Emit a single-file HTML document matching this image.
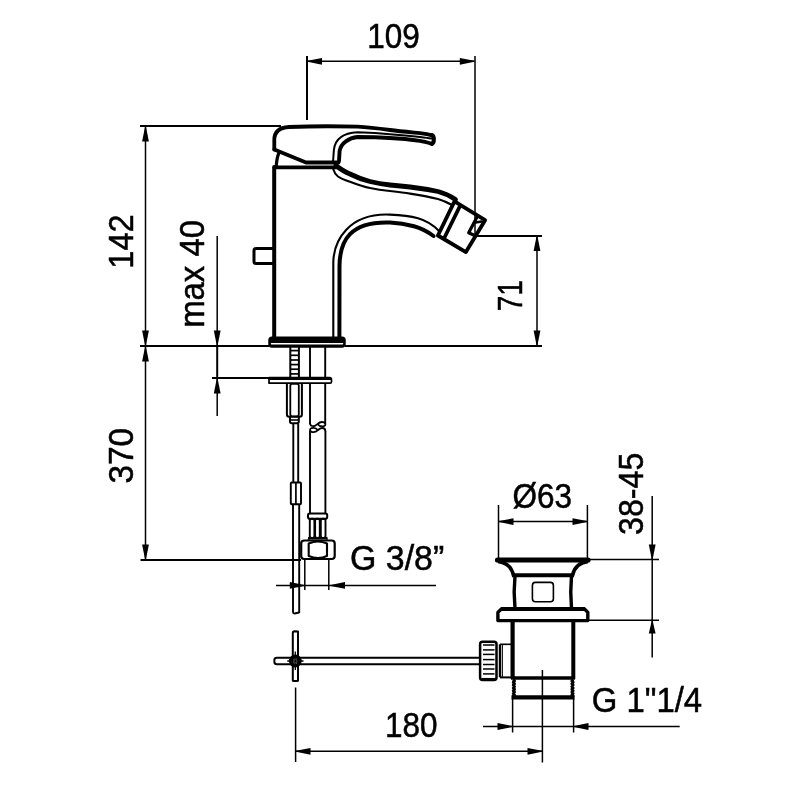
<!DOCTYPE html>
<html><head><meta charset="utf-8">
<style>
html,body{margin:0;padding:0;background:#fff;width:800px;height:800px;overflow:hidden}
svg{display:block;will-change:transform}
text{font-family:"Liberation Sans",sans-serif;fill:#000}
</style></head><body>
<svg width="800" height="800" viewBox="0 0 800 800">
<rect width="800" height="800" fill="#fff"/>

<!-- ============ DIMENSIONS ============ -->
<g stroke="#000" stroke-width="1.5" fill="none">
  <!-- 109 -->
  <line x1="307" y1="56" x2="307" y2="120" stroke-width="2"/>
  <line x1="475" y1="56" x2="475" y2="234"/>
  <line x1="307" y1="61.3" x2="474.5" y2="61.3" stroke-width="1.6"/>
  <!-- 142 -->
  <line x1="140" y1="126" x2="281" y2="126" stroke-width="2"/>
  <line x1="145.5" y1="126" x2="145.5" y2="345"/>
  <!-- base line -->
  <line x1="140" y1="346" x2="269" y2="346" stroke-width="2"/>
  <line x1="345" y1="346" x2="542" y2="346" stroke-width="2"/>
  <!-- max 40 -->
  <line x1="217.2" y1="236" x2="217.2" y2="346"/>
  <line x1="217.2" y1="346" x2="217.2" y2="378" stroke-width="2"/>
  <line x1="217.2" y1="378" x2="217.2" y2="416"/>
  <line x1="212" y1="377.9" x2="269" y2="377.9" stroke-width="2"/>
  <!-- 71 -->
  <line x1="477" y1="235.9" x2="542" y2="235.9" stroke-width="2"/>
  <line x1="537" y1="236" x2="537" y2="346"/>
  <!-- 370 -->
  <line x1="145.5" y1="346" x2="145.5" y2="560"/>
  <line x1="140.5" y1="560" x2="301" y2="560" stroke-width="2"/>
  <!-- G 3/8 -->
  <line x1="304.8" y1="560" x2="304.8" y2="590"/>
  <line x1="328.8" y1="560" x2="328.8" y2="590"/>
  <line x1="276" y1="585.5" x2="436" y2="585.5"/>
  <!-- O63 -->
  <line x1="498.5" y1="505" x2="498.5" y2="558"/>
  <line x1="587.4" y1="505" x2="587.4" y2="558"/>
  <line x1="499" y1="521.6" x2="587" y2="521.6"/>
  <!-- 38-45 -->
  <line x1="588" y1="559.6" x2="659" y2="559.6"/>
  <line x1="588" y1="620.2" x2="659" y2="620.2"/>
  <line x1="652.2" y1="496" x2="652.2" y2="657.5"/>
  <!-- G 1 1/4 -->
  <line x1="512.6" y1="698" x2="512.6" y2="732.5"/>
  <line x1="573.6" y1="698" x2="573.6" y2="732.5"/>
  <line x1="483" y1="726.5" x2="679.7" y2="726.5"/>
  <!-- 180 -->
  <line x1="295.6" y1="687.5" x2="295.6" y2="762"/>
  <line x1="542.4" y1="670" x2="542.4" y2="762.5"/>
  <line x1="296" y1="751.3" x2="542" y2="751.3"/>
</g>
<!-- arrowheads -->
<g fill="#000" stroke="none">
  <polygon points="307.50,60.80 322.00,57.90 322.00,64.70 307.50,61.80"/>
  <polygon points="474.30,60.80 459.80,57.90 459.80,64.70 474.30,61.80"/>
  <polygon points="145.00,127.00 142.10,141.50 148.90,141.50 146.00,127.00"/>
  <polygon points="145.00,345.00 142.10,330.50 148.90,330.50 146.00,345.00"/>
  <polygon points="216.70,345.00 213.80,330.50 220.60,330.50 217.70,345.00"/>
  <polygon points="216.70,379.00 213.80,393.50 220.60,393.50 217.70,379.00"/>
  <polygon points="536.50,236.50 533.60,251.00 540.40,251.00 537.50,236.50"/>
  <polygon points="536.50,345.00 533.60,330.50 540.40,330.50 537.50,345.00"/>
  <polygon points="145.00,347.00 142.10,361.50 148.90,361.50 146.00,347.00"/>
  <polygon points="145.00,559.00 142.10,544.50 148.90,544.50 146.00,559.00"/>
  <polygon points="304.30,584.90 289.80,582.00 289.80,588.80 304.30,585.90"/>
  <polygon points="330.50,584.90 345.00,582.00 345.00,588.80 330.50,585.90"/>
  <polygon points="499.00,521.10 513.50,518.20 513.50,525.00 499.00,522.10"/>
  <polygon points="587.00,521.10 572.50,518.20 572.50,525.00 587.00,522.10"/>
  <polygon points="651.70,559.00 648.80,544.50 655.60,544.50 652.70,559.00"/>
  <polygon points="651.70,621.00 648.80,633.50 655.60,633.50 652.70,621.00"/>
  <polygon points="512.00,726.00 497.50,723.10 497.50,729.90 512.00,727.00"/>
  <polygon points="574.00,726.00 588.50,723.10 588.50,729.90 574.00,727.00"/>
  <polygon points="296.00,750.80 310.50,747.90 310.50,754.70 296.00,751.80"/>
  <polygon points="542.00,750.80 527.50,747.90 527.50,754.70 542.00,751.80"/>
</g>

<!-- ============ TEXT ============ -->
<g font-size="35" text-anchor="middle" stroke="#000" stroke-width="0.5">
  <text transform="translate(393.5,47.6) scale(0.9,1)">109</text>
  <text transform="translate(397.1,569.8) scale(0.97,1)">G 3/8”</text>
  <text transform="translate(542.2,507.5) scale(0.9,1)">Ø63</text>
  <text transform="translate(411.3,736.8) scale(0.9,1)">180</text>
  <text transform="translate(646.9,712.3) scale(0.94,1)">G 1"1/4</text>
  <text transform="translate(132.6,241.5) rotate(-90) scale(0.93,1)">142</text>
  <text transform="translate(204,273.9) rotate(-90) scale(0.94,1)">max 40</text>
  <text transform="translate(132.7,455.7) rotate(-90) scale(0.955,1)">370</text>
  <text transform="translate(521.7,295.8) rotate(-90) scale(0.8,1)">71</text>
  <text transform="translate(642.7,493.8) rotate(-90) scale(0.92,1)">38-45</text>
</g>

<!-- ============ FAUCET ============ -->
<g stroke="#000" fill="none" stroke-linecap="round" stroke-linejoin="round">
  <!-- handle top + lever -->
  <path d="M274.3,149.5 L274.3,140 C274.3,131.5 279,127.5 289,127 C310,126.2 340,126.2 357.5,126.7 C370,127.4 380,128.7 390,130 C400,131.3 410,132.2 420,133.2 C425,133.8 429,134.5 432,135.3" stroke-width="3.8"/>
  <!-- lever tip -->
  <path d="M432,135.3 C434.4,136.3 434.4,142.9 432,143.8" stroke-width="4.2"/>
  <!-- lever lower thick -->
  <path d="M432,143.8 C428,142.7 424,141.6 420,140.9 C415,140.1 410,139.5 405,139 C395,138.2 385,137.6 375,137.3 L357.5,137 C349,138 341,143 339.6,151 L339,161" stroke-width="3.9"/>
  <!-- lever upper thin -->
  <path d="M431,138.5 C428,138 424,137.5 420,137 C415,136.3 410,135.8 405,135.4 C395,134.7 385,133.8 375,133.1 L357.5,132.2 C342,133 335,140 333.9,149.75 L333.1,161" stroke-width="2"/>
  <!-- handle bottom -->
  <path d="M274.3,149.5 L306,162.5 L338.5,162.5" stroke-width="3.8"/>
  <!-- small arc under handle -->
  <path d="M279.1,152.5 C277.5,156 276.5,161 276.3,166.5" stroke-width="3.2"/>
  <!-- body top -->
  <path d="M274.5,167.4 L336,167.4" stroke-width="3.8"/>
  <!-- body left -->
  <path d="M274.2,167 L274.2,337" stroke-width="4"/>
  <!-- button -->
  <path d="M274,248.5 L256,248.5 Q254,248.5 254,250.5 L254,261.5 Q254,263.5 256,263.5 L274,263.5" stroke-width="3"/>
  <!-- spout top thick -->
  <path d="M335.75,165.5 C341,169.5 345,172 350,174 C356,177 363,179.8 370,181.5 C377,183.2 384,184.3 390,185 C397,185.8 404,186.5 410,187 C418,188 428,189.5 438,191.5 C446,193.5 451,196.5 455.5,199.5" stroke-width="4.8"/>
  <!-- spout top thin -->
  <path d="M333,168.5 C334,172 335.5,174.5 338,176.5 C342,179.5 346,180.5 350,181.8 C357,184.5 363,186.8 370,188 C377,189.5 384,190.4 390,191 C397,191.8 404,192.6 410,193.6 C418,194.8 428,196.5 438,199 C444,200.8 448,202.8 452,205" stroke-width="2.1"/>
  <!-- spout underside thin outer -->
  <path d="M333.3,337 L333.3,262 C333.9,240.9 348.4,212.8 390,214.6 C400,215 410,216 418,218.2 C426,220.5 433,224.5 439,231" stroke-width="2.1"/>
  <!-- spout underside thick inner -->
  <path d="M339.4,337 L339.5,266 C339.8,240.5 350.3,221.2 390,222.6 C398,223 406,224.2 414,226.3 C422,228.5 428,232 433.5,236" stroke-width="4"/>
  <!-- nozzle box -->
  <path d="M454.5,201.4 L485.1,220.2 L465.9,252.1 L437.9,235.5 Z" stroke-width="3.8"/>
  <!-- collar inner line -->
  <path d="M460,206 L444,238.5" stroke-width="3.8"/>
  <!-- aerator -->
  <path d="M476.5,218 L468.7,232.8 L473.5,235" stroke-width="3.2"/>
  <path d="M474,222.8 L481.5,221.5" stroke-width="2.6"/>
  <!-- base plate -->
  <rect x="269" y="337.2" width="76" height="9.9" rx="3" fill="#000" stroke-width="1.5"/>
  <line x1="271.5" y1="343.7" x2="342.5" y2="343.7" stroke="#fff" stroke-width="1.5"/>
</g>

<!-- ============ STEMS ============ -->
<g stroke="#000" fill="none" stroke-linejoin="round">
  <!-- threaded rod -->
  <line x1="290.3" y1="347" x2="290.3" y2="378" stroke-width="2"/>
  <line x1="298.9" y1="347" x2="298.9" y2="378" stroke-width="2"/>
  <g stroke-width="1.7">
    <line x1="290.3" y1="350.6" x2="298.9" y2="350.6"/>
    <line x1="290.3" y1="355.3" x2="298.9" y2="355.3"/>
    <line x1="290.3" y1="360" x2="298.9" y2="360"/>
    <line x1="290.3" y1="364.6" x2="298.9" y2="364.6"/>
    <line x1="290.3" y1="369.2" x2="298.9" y2="369.2"/>
    <line x1="290.3" y1="373.9" x2="298.9" y2="373.9"/>
  </g>
  <!-- right tube upper -->
  <line x1="310" y1="347" x2="310" y2="424" stroke-width="1.9"/>
  <line x1="325.2" y1="347" x2="325.2" y2="423.5" stroke-width="1.9"/>
  <path d="M310,423 C310,425.6 311.5,426.2 313.5,426.2 C315.5,426.2 316,425 317.5,424 C319.5,422.2 322,421.6 324,422.4 C325.9,423.2 325.9,425.6 324,426.1 C322,426.6 319,426 317.5,424" stroke-width="1.8"/>
  <!-- right tube lower -->
  <path d="M325.4,431.2 C325.4,428.6 324,428 322,428 C320,428 319.5,429.2 318,430.2 C316,432 313.5,432.6 311.5,431.8 C309.6,431 309.6,428.6 311.5,428.1 C313.5,427.6 316.5,428.2 318,430.2" stroke-width="1.8"/>
  <line x1="310" y1="430.5" x2="310" y2="513.5" stroke-width="1.9"/>
  <line x1="325.4" y1="431" x2="325.4" y2="513.5" stroke-width="1.9"/>
  <!-- washer -->
  <path d="M269,377.6 L329.5,377.6 Q331.5,377.6 331.5,379.6 L331.5,381.8 Q331.5,383.2 330,383.2 L269,383.2 Z" fill="#fff" stroke-width="1.7"/>
  <line x1="269" y1="378.8" x2="331" y2="378.8" stroke-width="2.6"/>
  <!-- nut under washer -->
  <path d="M286.9,383.5 L286.9,414.5 Q286.9,416.8 289.2,416.8 L299.6,416.8 Q301.9,416.8 301.9,414.5 L301.9,383.5" stroke-width="2"/>
  <rect x="290.3" y="383.8" width="8.5" height="32.6" rx="1.8" stroke-width="1.8"/>
  <path d="M290,417 L290,421.5 Q290,423.2 291.8,423.2 L297,423.2 Q298.8,423.2 298.8,421.5 L298.8,417" stroke-width="2"/>
  <line x1="290" y1="420" x2="298.8" y2="420" stroke-width="1.6"/>
  <!-- thin tube -->
  <line x1="293.3" y1="423.5" x2="293.3" y2="482.5" stroke-width="1.9"/>
  <line x1="298.2" y1="423.5" x2="298.2" y2="482.5" stroke-width="1.9"/>
  <rect x="290.8" y="482.5" width="10.2" height="21.8" rx="1" stroke-width="1.9"/>
  <line x1="295.9" y1="482.5" x2="295.9" y2="504.3" stroke-width="1.7"/>
  <line x1="293" y1="504.3" x2="293" y2="612" stroke-width="1.9"/>
  <line x1="299.2" y1="504.3" x2="299.2" y2="613" stroke-width="1.9"/>
  <path d="M293,612 Q293,613.5 294.5,613.5 L299.2,612.5" stroke-width="1.9"/>
  <!-- collar + flutes -->
  <rect x="308" y="513.4" width="19.2" height="5.3" rx="1.8" stroke-width="2"/>
  <rect x="309.8" y="518.7" width="4.6" height="19.3" rx="2" stroke-width="1.9"/>
  <rect x="315.1" y="518.7" width="4.7" height="19.3" rx="2" stroke-width="1.9"/>
  <rect x="320.8" y="518.7" width="4.7" height="19.3" rx="2" stroke-width="1.9"/>
  <path d="M309,537 L308.5,539.8 M326.5,537 L327.2,539.8 M309,538.6 L326.5,538.6" stroke-width="1.6"/>
  <!-- hex nut -->
  <rect x="301.2" y="540.5" width="33.5" height="18.5" rx="3" stroke-width="2.2"/>
  <path d="M308.7,543.5 Q318,539.5 327,543.5 L327,556 Q318,560 308.7,556 Z" stroke-width="2.1"/>
</g>

<!-- ============ DRAIN ============ -->
<g stroke="#000" fill="none" stroke-linejoin="round">
  <!-- top flange -->
  <path d="M497.5,560 L588,560" stroke-width="5.2" stroke-linecap="round"/>
  <path d="M498,561.5 C506,562.5 512,567 513.6,576" stroke-width="3.6"/>
  <path d="M588,561.5 C580,562.5 574,567 572.4,576" stroke-width="3.6"/>
  <line x1="512" y1="575.2" x2="574" y2="575.2" stroke-width="3.9"/>
  <path d="M515,576 Q513.3,592 515,608.5" stroke-width="3.4"/>
  <path d="M571.5,576 Q570,592 571.5,608.5" stroke-width="3.4"/>
  <rect x="532.4" y="582.4" width="21" height="19.3" rx="3" stroke-width="1.6"/>
  <!-- lower flange -->
  <path d="M501.6,608.8 L584.4,608.8 L587.8,612.4 L587.8,620.6 L497.9,620.6 L497.9,612.4 Z" stroke-width="3.4"/>
  <line x1="501.6" y1="608.9" x2="584.4" y2="608.9" stroke-width="4"/>
  <!-- body -->
  <line x1="512.6" y1="621" x2="512.6" y2="679" stroke-width="4.2"/>
  <line x1="573.3" y1="621" x2="573.3" y2="679" stroke-width="4"/>
  <line x1="511" y1="678.1" x2="575" y2="678.1" stroke-width="3.5"/>
  <path d="M513.3,679.5 l1.2,1.4 l-1.2,1.4 l1.2,1.4 l-1.2,1.4 l1.2,1.4 l-1.2,1.4 l1.2,1.4 l-1.2,1.4 l1.2,1.4 l-1.2,1.4 l1.2,1.4 l-1.2,1.4 l1.2,1.4" stroke-width="3"/>
  <path d="M573.1,679.5 l-1.2,1.4 l1.2,1.4 l-1.2,1.4 l1.2,1.4 l-1.2,1.4 l1.2,1.4 l-1.2,1.4 l1.2,1.4 l-1.2,1.4 l1.2,1.4 l-1.2,1.4 l1.2,1.4 l-1.2,1.4" stroke-width="3"/>
  <line x1="511.5" y1="697.4" x2="574.5" y2="697.4" stroke-width="4.3"/>
  <!-- knob -->
  <rect x="480.1" y="641.8" width="16.4" height="38.3" rx="2.5" stroke-width="2.5"/>
  <line x1="481.5" y1="679.2" x2="495.5" y2="679.2" stroke-width="2.5"/>
  <g stroke-width="1.5">
    <line x1="483" y1="645" x2="494.5" y2="645"/>
    <line x1="483" y1="649.9" x2="494.5" y2="649.9"/>
    <line x1="483" y1="654.4" x2="494.5" y2="654.4"/>
    <line x1="483" y1="659.6" x2="494.5" y2="659.6"/>
    <line x1="483" y1="664.5" x2="494.5" y2="664.5"/>
    <line x1="483" y1="669" x2="494.5" y2="669"/>
    <line x1="483" y1="673.9" x2="494.5" y2="673.9"/>
  </g>
  <line x1="500" y1="644.3" x2="500" y2="677.3" stroke-width="2.4"/>
  <line x1="502.4" y1="645" x2="502.4" y2="677" stroke-width="1"/>
  <path d="M500,644.3 L511,644.3" stroke-width="1.6"/>
  <path d="M500,677.4 L511,677.4" stroke-width="2"/>
  <!-- rod -->
  <path d="M480,657.8 L277,657.8 Q274.4,657.8 274.4,660 L274.4,662 Q274.4,664.3 277,664.3 L480,664.3" stroke-width="2"/>
  <!-- cross bar -->
  <path d="M292.8,680.5 L292.8,633 Q292.8,631.3 294.5,631.2 L298,631.4 L298,680.5 Q298,681 297,681 L293.8,681 Q292.8,681 292.8,680.5 Z" stroke-width="2" fill="#fff"/>
  <line x1="292.8" y1="657.8" x2="298" y2="657.8" stroke-width="2"/>
  <line x1="292.8" y1="664.3" x2="298" y2="664.3" stroke-width="2"/>
  <circle cx="295.3" cy="661" r="5" stroke-width="2.8"/>
  <path d="M287.3,661 L303.5,661 M295.3,651.5 L295.3,670" stroke-width="1.3"/>
  <circle cx="295.3" cy="661" r="1.8" stroke-width="1.2" stroke="#333"/>
</g>
</svg>
</body></html>
